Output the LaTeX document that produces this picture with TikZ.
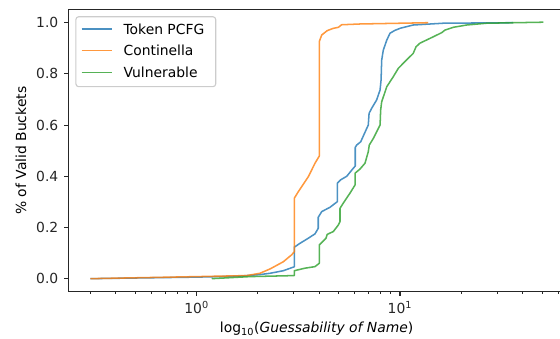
\documentclass[tikz,border=0pt]{standalone}
\usepackage{fontspec}
\setmainfont{DejaVu Sans}

\definecolor{tabblue}{HTML}{1F77B4}
\definecolor{taborange}{HTML}{FF7F0E}
\definecolor{tabgreen}{HTML}{2CA02C}

\begin{document}
\begin{tikzpicture}[x=146.4pt,y=184.32pt,
  spine/.style={line width=0.8pt,black!85},
  minor/.style={line width=0.6pt,black!85},
  tok/.style={tabblue,opacity=0.8,line width=1.1pt,line join=round},
  cont/.style={taborange,opacity=0.8,line width=1.1pt,line join=round},
  vuln/.style={tabgreen,opacity=0.8,line width=1.1pt,line join=round},
  legbox/.style={draw=black!20,line width=0.8pt,fill=white,fill opacity=0.8,rounded corners=2pt}]

\useasboundingbox (-0.9675,-0.2355) rectangle (1.7871,1.0887);
\clip (-0.9675,-0.2355) rectangle (1.7871,1.0887);

% curves, x is log10 of the guess count
\draw[tok] (-0.523,0) -- (0,0.006) -- (0.212,0.010) -- (0.311,0.016) -- (0.361,0.021)
  -- (0.426,0.031) -- (0.475,0.045) -- (0.480,0.046) -- (0.480,0.123) -- (0.508,0.138)
  -- (0.549,0.158) -- (0.582,0.175) -- (0.598,0.197) -- (0.598,0.240) -- (0.615,0.262)
  -- (0.656,0.279) -- (0.692,0.301) -- (0.692,0.373) -- (0.708,0.386) -- (0.738,0.400)
  -- (0.770,0.431) -- (0.780,0.440) -- (0.780,0.513) -- (0.787,0.522) -- (0.807,0.535)
  -- (0.833,0.581) -- (0.844,0.600) -- (0.848,0.646) -- (0.861,0.666) -- (0.885,0.698)
  -- (0.902,0.737) -- (0.907,0.776) -- (0.910,0.854) -- (0.918,0.893) -- (0.935,0.932)
  -- (0.951,0.959) -- (0.975,0.970) -- (1.0,0.978) -- (1.065,0.991) -- (1.213,0.998)
  -- (1.557,1.0);

\draw[cont] (-0.523,0) -- (0,0.008) -- (0.246,0.012) -- (0.311,0.021) -- (0.361,0.038)
  -- (0.426,0.066) -- (0.467,0.093) -- (0.480,0.105) -- (0.480,0.314) -- (0.500,0.340)
  -- (0.549,0.398) -- (0.582,0.451) -- (0.603,0.479) -- (0.603,0.926) -- (0.615,0.952)
  -- (0.642,0.969) -- (0.672,0.978) -- (0.697,0.982) -- (0.713,0.992) -- (0.803,0.995)
  -- (1.139,1.0);

\draw[vuln] (0.074,0) -- (0.262,0.008) -- (0.480,0.012) -- (0.480,0.031) -- (0.533,0.041)
  -- (0.582,0.047) -- (0.603,0.060) -- (0.603,0.132) -- (0.615,0.141) -- (0.636,0.158)
  -- (0.642,0.173) -- (0.672,0.184) -- (0.697,0.210) -- (0.705,0.223) -- (0.705,0.275)
  -- (0.721,0.295) -- (0.754,0.334) -- (0.779,0.366) -- (0.779,0.412) -- (0.803,0.428)
  -- (0.828,0.451) -- (0.844,0.496) -- (0.849,0.522) -- (0.869,0.548) -- (0.902,0.600)
  -- (0.905,0.659) -- (0.910,0.691) -- (0.935,0.750) -- (0.967,0.789) -- (0.992,0.822)
  -- (1.033,0.855) -- (1.065,0.880) -- (1.079,0.906) -- (1.098,0.920) -- (1.164,0.945)
  -- (1.205,0.961) -- (1.221,0.971) -- (1.262,0.982) -- (1.328,0.991) -- (1.426,0.998)
  -- (1.705,1.002);

% frame
\draw[spine] (-0.630,-0.05) rectangle (1.81,1.05);

% y ticks
\foreach \v [count=\i] in {0.0,0.2,0.4,0.6,0.8,1.0}
  \draw[spine] (-0.630,\v) -- ++(-3.5pt,0)
    node[anchor=east,inner sep=0pt,xshift=-3.5pt] (yt\i) {\v};

% x ticks
\foreach \d in {0,1}
  \draw[spine] (\d,-0.05) -- ++(0,-3.5pt)
    node[anchor=north,inner sep=0pt,yshift=-3.5pt] (xt\d) {10\textsuperscript{\d}};
\foreach \m in {0.3,0.4,0.5,0.6,0.7,0.8,0.9,2,3,4,5,6,7,8,9,20,30,40,50,60}
  \draw[minor] ({log10(\m)},-0.05) -- ++(0,-2pt);

% axis labels
\node[anchor=base] (xlab) at (0.59,-0.212) {log\textsubscript{10}(\textit{Guessability of Name})};
\node[rotate=90] (ylab) at (-0.864,0.5) {\% of Valid Buckets};

% legend
\draw[legbox] (-0.594,0.750) rectangle (0.0935,1.0234);
\coordinate (l1a) at (-0.566,0.975);
\coordinate (l1b) at (-0.415,0.975);
\coordinate (l2a) at (-0.566,0.891);
\coordinate (l2b) at (-0.415,0.891);
\coordinate (l3a) at (-0.566,0.806);
\coordinate (l3b) at (-0.415,0.806);
\draw[tok] (l1a) -- (l1b);
\draw[cont] (l2a) -- (l2b);
\draw[vuln] (l3a) -- (l3b);
\node[anchor=west,inner sep=0pt] (l1) at (-0.361,0.975) {Token PCFG};
\node[anchor=west,inner sep=0pt] (l2) at (-0.361,0.891) {Continella};
\node[anchor=west,inner sep=0pt] (l3) at (-0.361,0.806) {Vulnerable};
\end{tikzpicture}
\end{document}
